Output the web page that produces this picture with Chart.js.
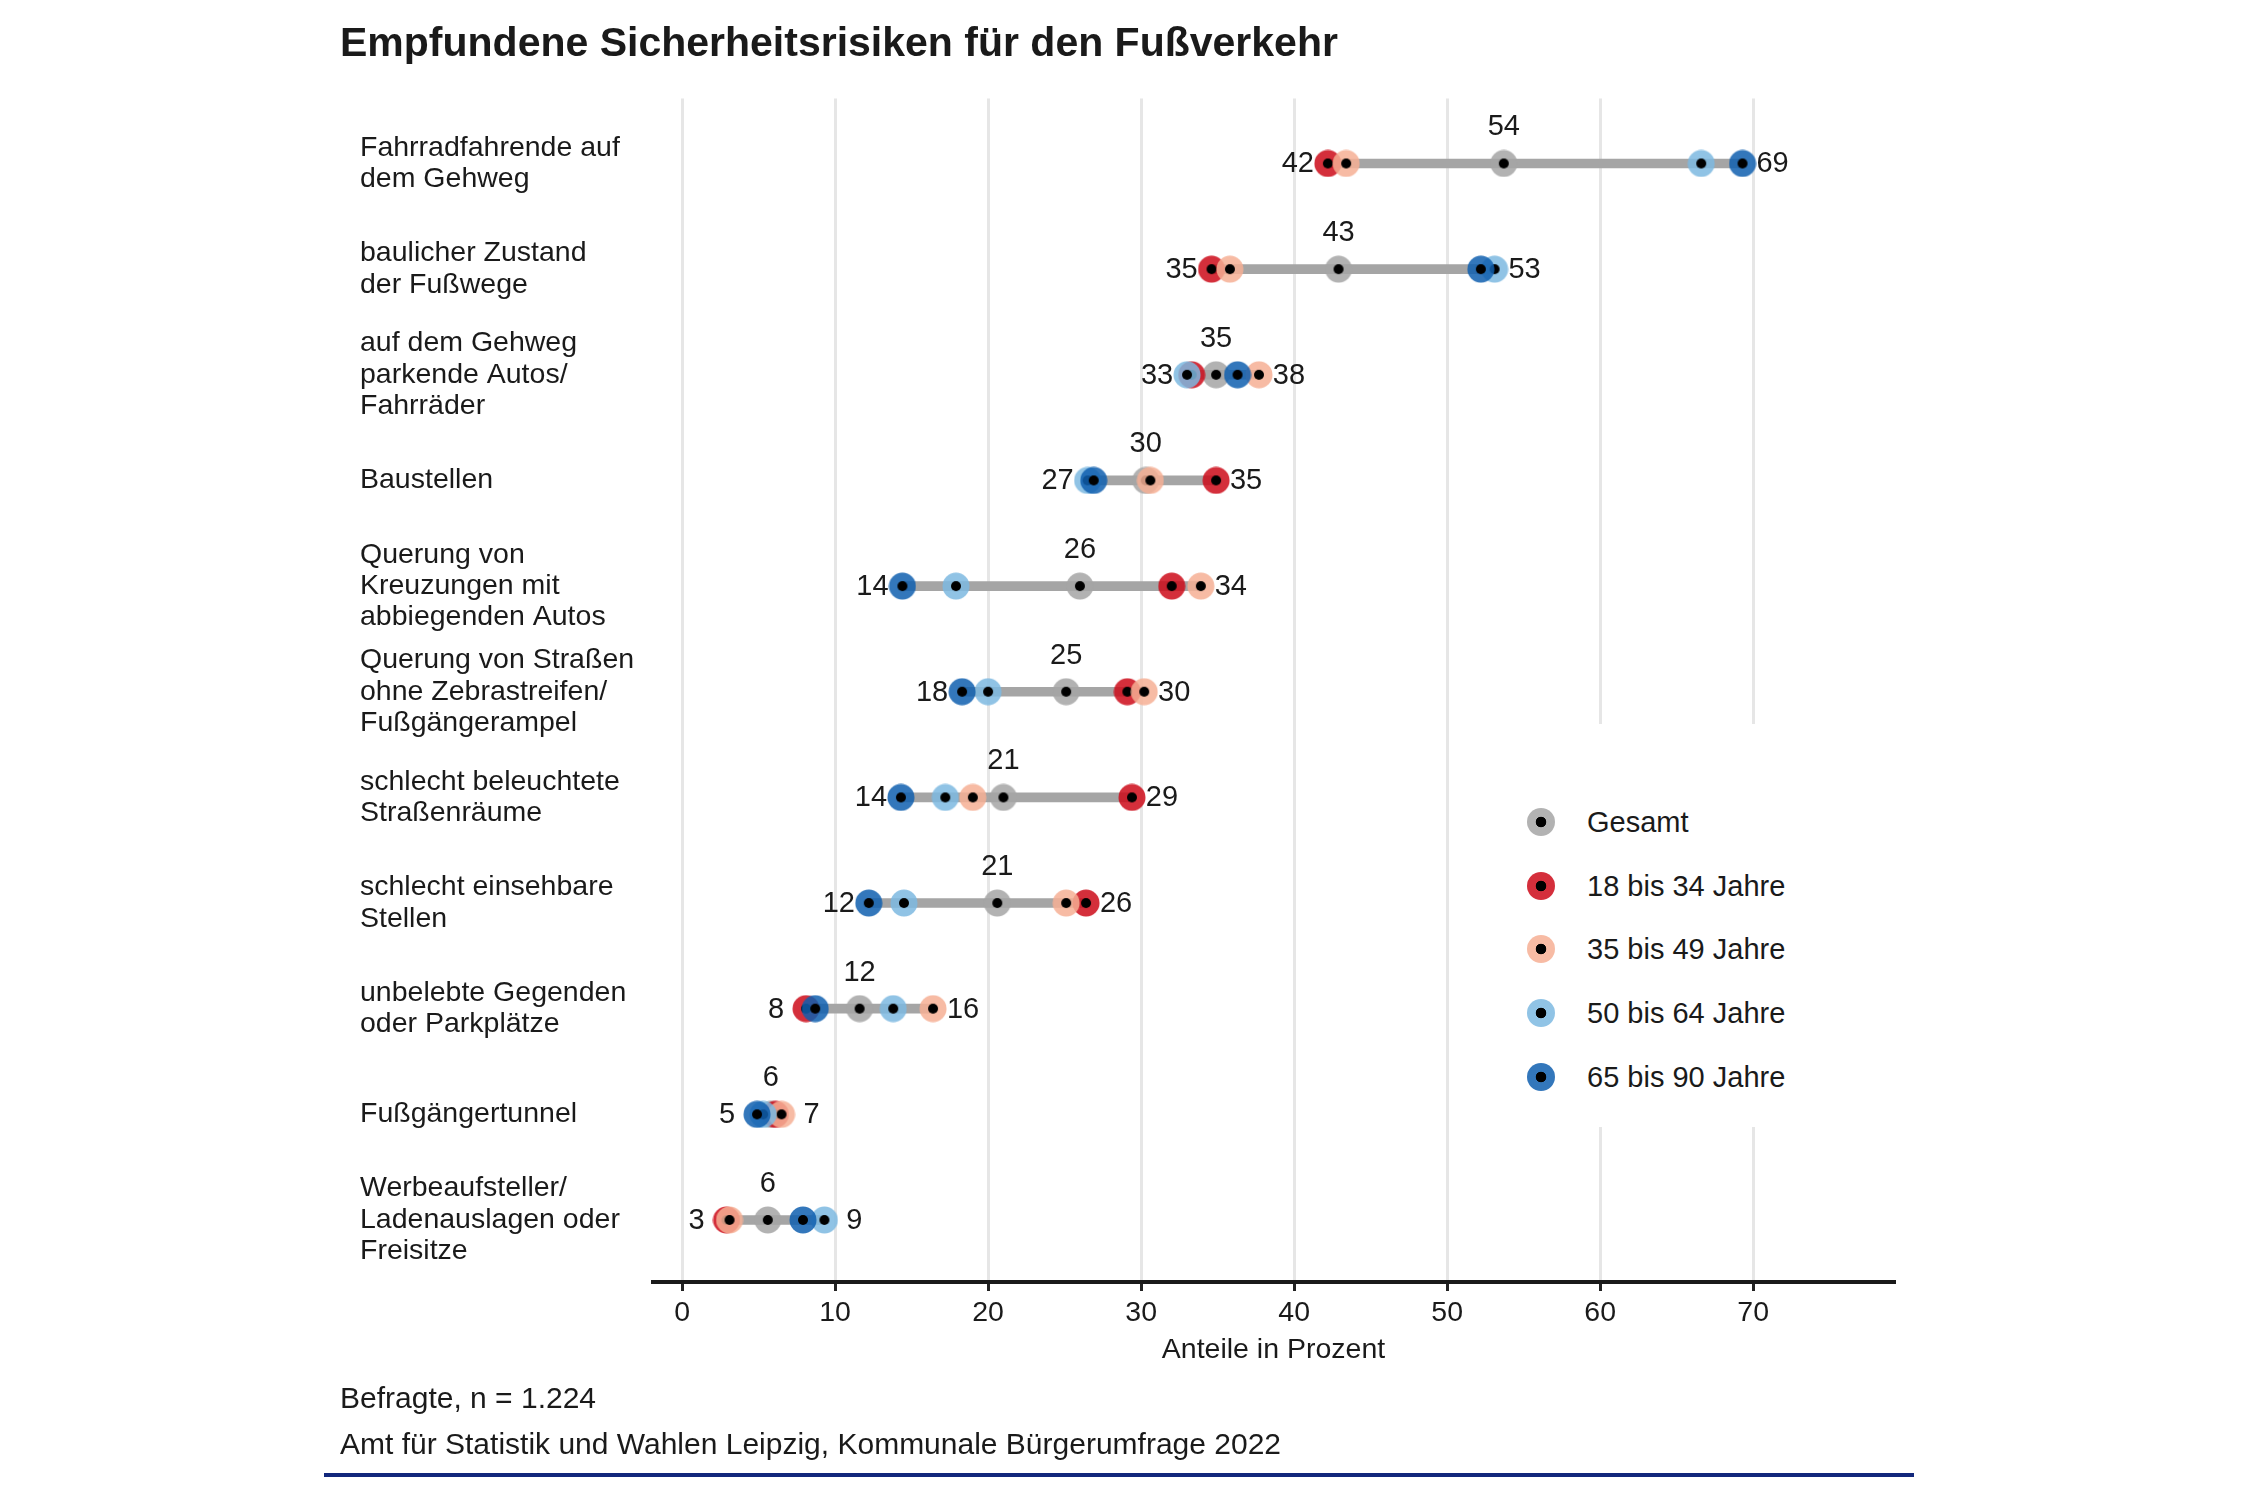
<!DOCTYPE html>
<html>
<head>
<meta charset="utf-8">
<script src="https://cdn.jsdelivr.net/npm/chart.js@4.4.1/dist/chart.umd.min.js"></script>
<style>
  body { margin: 0; background: #fff; font-family: "Liberation Sans", Arial, sans-serif; color: #1a1a1a; }
  #wrap { position: relative; width: 2250px; height: 1500px; overflow: hidden; }
  #chart { position: absolute; left: 0; top: 0; }
  .txt { position: absolute; white-space: nowrap; }
  #title { left: 340px; top: 22px; font-size: 41px; line-height: 41px; font-weight: bold; }
  #note1 { left: 340px; top: 1383px; font-size: 30px; line-height: 30px; }
  #note2 { left: 340px; top: 1429px; font-size: 30px; line-height: 30px; }
  #rule { position: absolute; left: 324px; top: 1473px; width: 1590px; height: 4px; background: #12277c; }
  #legend { position: absolute; left: 1505px; top: 724px; width: 345px; height: 403px; background: #fff; }
  .item { position: absolute; left: 22px; height: 30px; font-size: 29px; line-height: 30px; }
  .mark { position: absolute; left: 0; top: 1px; width: 28px; height: 28px; border-radius: 50%; }
  .item span.lab { position: absolute; left: 60px; top: 0; white-space: nowrap; }
</style>
</head>
<body>
<div id="wrap">
  <canvas id="chart" width="2250" height="1500"></canvas>
  <div id="title" class="txt">Empfundene Sicherheitsrisiken für den Fußverkehr</div>
  <div id="legend"></div>
  <div id="note1" class="txt">Befragte, n = 1.224</div>
  <div id="note2" class="txt">Amt für Statistik und Wahlen Leipzig, Kommunale Bürgerumfrage 2022</div>
  <div id="rule"></div>
</div>
<script>
// Kategorien (von oben nach unten)
var categories = [
    ['Fahrradfahrende auf', 'dem Gehweg'],
    ['baulicher Zustand', 'der Fußwege'],
    ['auf dem Gehweg', 'parkende Autos/', 'Fahrräder'],
    ['Baustellen'],
    ['Querung von', 'Kreuzungen mit', 'abbiegenden Autos'],
    ['Querung von Straßen', 'ohne Zebrastreifen/', 'Fußgängerampel'],
    ['schlecht beleuchtete', 'Straßenräume'],
    ['schlecht einsehbare', 'Stellen'],
    ['unbelebte Gegenden', 'oder Parkplätze'],
    ['Fußgängertunnel'],
    ['Werbeaufsteller/', 'Ladenauslagen oder', 'Freisitze']
];

var seriesNames = ['Gesamt', '18 bis 34 Jahre', '35 bis 49 Jahre', '50 bis 64 Jahre', '65 bis 90 Jahre'];
var seriesColors = [
    'rgba(165,165,165,0.85)',
    'rgba(205,10,25,0.85)',
    'rgba(246,175,148,0.85)',
    'rgba(125,185,225,0.85)',
    'rgba(15,95,175,0.85)'
];

var gesamt = [53.7, 42.9, 34.9, 30.3, 26.0, 25.1, 21.0, 20.6, 11.6, 5.8, 5.6];
var age18  = [42.2, 34.6, 33.3, 34.9, 32.0, 29.1, 29.4, 26.4, 8.1, 6.1, 2.9];
var age35  = [43.4, 35.8, 37.7, 30.6, 33.9, 30.2, 19.0, 25.1, 16.4, 6.5, 3.1];
var age50  = [66.6, 53.1, 33.0, 26.5, 17.9, 20.0, 17.2, 14.5, 13.8, 5.3, 9.3];
var age65  = [69.3, 52.2, 36.3, 26.9, 14.4, 18.3, 14.3, 12.2, 8.7, 4.9, 7.9];

var xTicks = [0, 10, 20, 30, 40, 50, 60, 70];

var allSeries = [gesamt, age18, age35, age50, age65];
var ageSeries = [age18, age35, age50, age65];

function rowMin(i) { return Math.min.apply(null, ageSeries.map(function (s) { return s[i]; })); }
function rowMax(i) { return Math.max.apply(null, ageSeries.map(function (s) { return s[i]; })); }

function makeMarker(color) {
    var c = document.createElement('canvas');
    c.width = 28; c.height = 28;
    var g = c.getContext('2d');
    g.fillStyle = color;
    g.beginPath(); g.arc(14, 14, 13.5, 0, 2 * Math.PI); g.fill();
    g.fillStyle = '#000';
    g.beginPath(); g.arc(14, 14, 5, 0, 2 * Math.PI); g.fill();
    return c;
}

var font = '"Liberation Sans", Arial, sans-serif';

var datasets = [{
    type: 'bar',
    label: 'Spanne',
    indexAxis: 'y',
    data: categories.map(function (c, i) { return { y: i + 1, x: [rowMin(i), rowMax(i)] }; }),
    backgroundColor: '#a5a5a5',
    barThickness: 9,
    order: 6
}];
allSeries.forEach(function (s, k) {
    datasets.push({
        type: 'scatter',
        label: seriesNames[k],
        data: s.map(function (v, i) { return { x: v, y: i + 1 }; }),
        pointStyle: makeMarker(seriesColors[k]),
        order: 5 - k
    });
});

// Zahlenwerte: Gesamt oben, Minimum links, Maximum rechts
var valueLabels = {
    id: 'valueLabels',
    afterDatasetsDraw: function (chart) {
        var ctx = chart.ctx, xs = chart.scales.x, ys = chart.scales.y;
        ctx.save();
        ctx.font = '29px ' + font;
        ctx.fillStyle = '#1a1a1a';
        ctx.textAlign = 'center';
        ctx.textBaseline = 'middle';
        categories.forEach(function (c, i) {
            var y = ys.getPixelForValue(i + 1);
            var lo = rowMin(i), hi = rowMax(i);
            ctx.fillText(Math.round(gesamt[i]), xs.getPixelForValue(gesamt[i]), y - 36);
            ctx.fillText(Math.round(lo), xs.getPixelForValue(lo) - 30, y + 1);
            ctx.fillText(Math.round(hi), xs.getPixelForValue(hi) + 30, y + 1);
        });
        ctx.restore();
    }
};

new Chart(document.getElementById('chart').getContext('2d'), {
    type: 'scatter',
    data: { datasets: datasets },
    plugins: [valueLabels],
    options: {
        responsive: false,
        animation: false,
        events: [],
        layout: { padding: { left: 360, right: 356, top: 98.5, bottom: 133 } },
        plugins: { legend: { display: false }, tooltip: { enabled: false } },
        scales: {
            x: {
                type: 'linear',
                min: -1.9,
                max: 79.2,
                afterBuildTicks: function (scale) { scale.ticks = xTicks.map(function (v) { return { value: v }; }); },
                afterFit: function (scale) { scale.height = 85; },
                grid: { color: '#e6e6e6', lineWidth: 3, tickColor: '#222', tickWidth: 3, tickLength: 9 },
                border: { color: '#1a1a1a', width: 4 },
                ticks: { color: '#1a1a1a', font: { family: font, size: 28.5 }, padding: 5 },
                title: { display: true, text: 'Anteile in Prozent', color: '#1a1a1a', font: { family: font, size: 28.5 }, padding: { top: 4, bottom: 0 } }
            },
            y: {
                type: 'linear',
                reverse: true,
                offset: false,
                min: 0.385,
                max: 11.587,
                afterBuildTicks: function (scale) { scale.ticks = categories.map(function (c, i) { return { value: i + 1 }; }); },
                afterFit: function (scale) { scale.width = 293; },
                grid: { display: false, offset: false },
                border: { display: false },
                ticks: {
                    crossAlign: 'far',
                    color: '#1a1a1a',
                    font: { family: font, size: 28.5, lineHeight: 1.1 },
                    callback: function (v) { return categories[v - 1] || ''; }
                }
            }
        }
    }
});

// Legende
var legend = document.getElementById('legend');
seriesNames.forEach(function (name, k) {
    var item = document.createElement('div');
    item.className = 'item';
    item.style.top = (83 + k * 63.7) + 'px';
    item.innerHTML = '<span class="mark" style="background: radial-gradient(circle, #000 0 5px, ' +
        seriesColors[k] + ' 5.6px)"></span><span class="lab">' + name + '</span>';
    legend.appendChild(item);
});
</script>
</body>
</html>
